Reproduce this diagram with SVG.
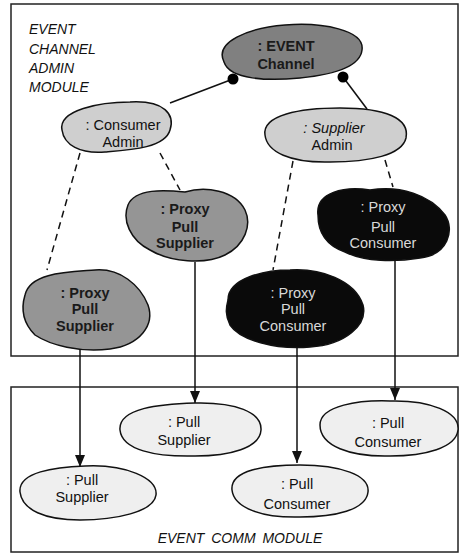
<svg xmlns="http://www.w3.org/2000/svg" width="460" height="554" viewBox="0 0 460 554">
<defs>
<marker id="arr" viewBox="0 0 12 10" refX="12" refY="5" markerWidth="12" markerHeight="10" markerUnits="userSpaceOnUse" orient="auto">
<path d="M0,0 L12,5 L0,10 Z" fill="#111"/>
</marker>
</defs>
<style>
.box{fill:none;stroke:#222;stroke-width:1.5}
.mod{font-family:"Liberation Sans",Arial,sans-serif;font-size:14px;font-style:italic;fill:#111}
.t{font-family:"Liberation Sans",Arial,sans-serif;font-size:14.5px;text-anchor:middle;fill:#111}
.b{font-weight:bold;fill:#1a1a1a}
.w{fill:#d8d8d8}
.blob{stroke:#111;stroke-width:1.5}
.dark{fill:#808080}
.mid{fill:#959595}
.light{fill:#cfcfcf}
.pale{fill:#efefef}
.black{fill:#0a0a0a}
.ln{stroke:#111;stroke-width:1.5;fill:none}
.dash{stroke:#111;stroke-width:1.5;fill:none;stroke-dasharray:7,5}
</style>
<rect class="box" x="11" y="4" width="447" height="352"/>
<rect class="box" x="11" y="387" width="447" height="165"/>
<text class="mod" x="29" y="34">EVENT</text>
<text class="mod" x="29" y="53.5">CHANNEL</text>
<text class="mod" x="29" y="73">ADMIN</text>
<text class="mod" x="29" y="92">MODULE</text>
<text class="mod" x="240" y="543" text-anchor="middle" word-spacing="3">EVENT COMM MODULE</text>

<g id="connectors">
<line class="ln" x1="233" y1="79" x2="170" y2="103"/>
<line class="ln" x1="343" y1="77" x2="367" y2="109"/>
<line class="dash" x1="80" y1="153" x2="47" y2="270"/>
<line class="dash" x1="160" y1="153" x2="180" y2="190"/>
<line class="dash" x1="293" y1="161" x2="273" y2="270"/>
<line class="dash" x1="385" y1="160" x2="393" y2="187"/>
<line class="ln" x1="80" y1="350" x2="80" y2="467" marker-end="url(#arr)"/>
<line class="ln" x1="195" y1="262" x2="195" y2="403" marker-end="url(#arr)"/>
<line class="ln" x1="297" y1="347" x2="297" y2="463" marker-end="url(#arr)"/>
<line class="ln" x1="395" y1="260" x2="395" y2="400" marker-end="url(#arr)"/>
</g>

<g id="event-channel">
<path class="blob dark" d="M 224 62 C 214 42, 248 28, 285 25 C 322 22, 365 30, 362 50 C 360 68, 330 75, 300 78 C 268 81, 230 80, 224 62 Z"/>
<circle cx="233" cy="79" r="5.5" fill="#000"/>
<circle cx="343" cy="77" r="5.5" fill="#000"/>
<text class="t b" x="286" y="51">: EVENT</text>
<text class="t b" x="286" y="69">Channel</text>
</g>

<g id="consumer-admin">
<path class="blob light" d="M 62 130 C 58 110, 100 102, 130 102 C 165 100, 175 115, 170 130 C 165 148, 130 150, 105 152 C 80 154, 64 145, 62 130 Z"/>
<text class="t" x="123" y="130">: Consumer</text>
<text class="t" x="123" y="147">Admin</text>
</g>

<g id="supplier-admin">
<path class="blob light" d="M 265 135 C 262 115, 300 108, 340 108 C 385 108, 410 118, 406 138 C 402 155, 370 162, 330 162 C 290 163, 267 152, 265 135 Z"/>
<text class="t" x="334" y="133" font-style="italic">: Supplier</text>
<text class="t" x="332" y="150">Admin</text>
</g>

<g id="proxy-pull-supplier-1">
<path class="blob mid" d="M 128 205 C 135 188, 165 190, 185 192 C 205 186, 235 190, 245 210 C 252 225, 245 245, 225 255 C 205 265, 170 262, 150 250 C 130 240, 122 220, 128 205 Z"/>
<text class="t b" x="185" y="214">: Proxy</text>
<text class="t b" x="185" y="232">Pull</text>
<text class="t b" x="185" y="248">Supplier</text>
</g>

<g id="proxy-pull-supplier-2">
<path class="blob mid" d="M 25 295 C 30 272, 70 272, 95 270 C 120 268, 140 285, 148 305 C 155 325, 140 345, 110 349 C 80 353, 50 345, 35 335 C 20 320, 22 305, 25 295 Z"/>
<text class="t b" x="85" y="298">: Proxy</text>
<text class="t b" x="85" y="314">Pull</text>
<text class="t b" x="85" y="331">Supplier</text>
</g>

<g id="proxy-pull-consumer-1">
<path class="blob black" d="M 318 215 C 315 192, 345 186, 370 190 C 400 185, 430 195, 445 215 C 455 230, 448 255, 420 258 C 395 262, 365 262, 345 252 C 325 245, 318 232, 318 215 Z"/>
<text class="t w" x="383" y="212">: Proxy</text>
<text class="t w" x="383" y="232">Pull</text>
<text class="t w" x="383" y="248">Consumer</text>
</g>

<g id="proxy-pull-consumer-2">
<path class="blob black" d="M 228 300 C 228 278, 265 270, 290 270 C 320 268, 355 280, 363 305 C 368 325, 345 345, 310 347 C 275 350, 240 340, 230 325 C 225 315, 226 308, 228 300 Z"/>
<text class="t w" x="293" y="298">: Proxy</text>
<text class="t w" x="293" y="314">Pull</text>
<text class="t w" x="293" y="331">Consumer</text>
</g>

<g id="pull-supplier-1">
<path class="blob pale" d="M 120 430 C 118 408, 160 404, 195 403 C 235 402, 262 412, 261 430 C 260 448, 230 456, 195 456 C 155 457, 122 450, 120 430 Z"/>
<text class="t" x="184" y="427">: Pull</text>
<text class="t" x="184" y="445">Supplier</text>
</g>

<g id="pull-supplier-2">
<path class="blob pale" d="M 20 492 C 18 472, 55 467, 85 466 C 125 464, 158 478, 156 495 C 154 512, 115 520, 80 520 C 45 520, 22 510, 20 492 Z"/>
<text class="t" x="82" y="485">: Pull</text>
<text class="t" x="82" y="502">Supplier</text>
</g>

<g id="pull-consumer-1">
<path class="blob pale" d="M 320 425 C 320 405, 360 400, 390 401 C 430 400, 460 412, 458 430 C 456 448, 425 456, 390 456 C 350 457, 320 446, 320 425 Z"/>
<text class="t" x="388" y="428">: Pull</text>
<text class="t" x="388" y="447">Consumer</text>
</g>

<g id="pull-consumer-2">
<path class="blob pale" d="M 232 490 C 230 470, 265 465, 300 465 C 340 465, 370 475, 368 492 C 366 510, 335 517, 300 517 C 262 518, 234 508, 232 490 Z"/>
<text class="t" x="297" y="489">: Pull</text>
<text class="t" x="297" y="509">Consumer</text>
</g>
</svg>
